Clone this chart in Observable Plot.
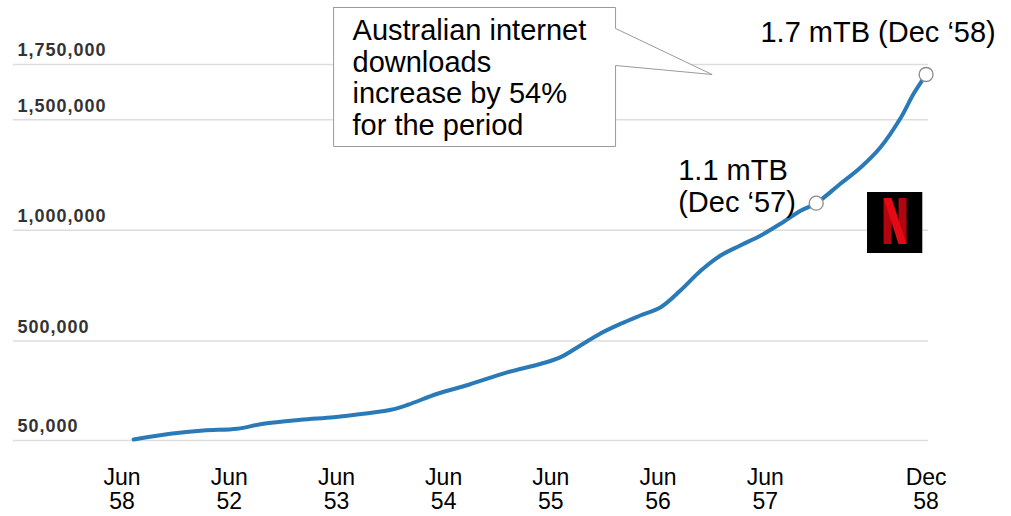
<!DOCTYPE html>
<html>
<head>
<meta charset="utf-8">
<script src="https://cdn.jsdelivr.net/npm/d3@7"></script>
<script src="https://cdn.jsdelivr.net/npm/@observablehq/plot@0.6"></script>
<style>
  html, body { margin: 0; padding: 0; background: #ffffff; }
  #chart svg { display: block; }
</style>
</head>
<body>
<div id="chart"></div>
<script>
// ---- data (months counted from the first "Jun" tick) ----
const months = [1.3, 5.4, 9.1, 12.9, 15.8, 20.0, 23.7, 27.0, 30.1, 32.0, 35.3, 38.8, 43.2, 46.9, 49.1, 51.3, 53.6, 55.8, 58.0, 60.3, 62.5, 64.8, 67.0, 69.2, 71.5, 73.7, 76.0, 77.7, 80.4, 82.7, 84.9, 87.2, 88.6, 90];
const downloads = [54500, 80300, 95200, 102900, 125500, 143600, 155300, 170700, 188800, 211400, 261100, 301800, 358800, 396800, 426600, 479500, 535100, 577600, 615000, 652500, 728000, 818500, 886300, 931500, 976800, 1029700, 1089800, 1122800, 1210500, 1285600, 1376000, 1511700, 1617500, 1704700];

const yTicks = [50000, 500000, 1000000, 1500000, 1750000];
const xTickMonths = [0, 12, 24, 36, 48, 60, 72, 90];
const xTickLabels = ["Jun\n58", "Jun\n52", "Jun\n53", "Jun\n54", "Jun\n55", "Jun\n56", "Jun\n57", "Dec\n58"];

const markerMonths = [77.7, 90];
const markerValues = [1122800, 1704700];
const markerLabels = ["1.1 mTB\n(Dec \u201857)", "1.7 mTB (Dec \u201858)"];

const calloutText = "Australian internet\ndownloads\nincrease by 54%\nfor the period";
// callout outline (data units: months, downloads)
const calloutM = [23.68, 55.24, 55.24, 66.05, 55.24, 55.24, 23.68, 23.68];
const calloutV = [2007800, 2007800, 1912800, 1704800, 1745500, 1379200, 1379200, 2007800];
const calloutTextAt = [{m: 25.8, v: 1959800}];
const logoAt = [{m: 86.47, v: 1035500}];

// ---- derived tables ----
const series = months.map((m, i) => ({m, v: downloads[i]}));
const markers = markerMonths.map((m, i) => ({m, v: markerValues[i], label: markerLabels[i]}));
const callout = calloutM.map((m, i) => ({m, v: calloutV[i]}));

const logoSvg = `<svg xmlns="http://www.w3.org/2000/svg" width="56" height="61" viewBox="0 0 56 61">
<rect width="56" height="61" fill="#000"/>
<rect x="17" y="6" width="8" height="46" fill="#b1060f"/>
<rect x="32" y="6" width="8" height="46" fill="#b1060f"/>
<polygon points="17,6 25,6 40,52 32,52" fill="#e50914"/>
</svg>`;
const logoSrc = "data:image/svg+xml;charset=utf-8," + encodeURIComponent(logoSvg);

const font = "Liberation Sans, Arial, Helvetica, sans-serif";

const chart = Plot.plot({
  width: 1011,
  height: 516,
  marginLeft: 13,
  marginRight: 83,
  marginTop: 64,
  marginBottom: 65,
  style: {fontFamily: font, background: "#ffffff", color: "#000"},
  x: {domain: [-12.15, 90.27]},
  y: {domain: [0, 1750000]},
  marks: [
    Plot.ruleY(yTicks, {stroke: "#dddddd", strokeWidth: 1.5}),
    Plot.axisY({
      ticks: yTicks, tickSize: 0, tickPadding: 0, textAnchor: "start",
      dx: 4, dy: -14, fontSize: 18, fontWeight: "bold", fill: "#333333",
      tickFormat: d3.format(","), label: null
    }),
    Plot.axisX({
      ticks: xTickMonths, tickSize: 0, tickPadding: 17, fontSize: 23, lineHeight: 1.04,
      fill: "#000", tickFormat: (d) => xTickLabels[xTickMonths.indexOf(d)], label: null
    }),
    Plot.line(callout, {x: "m", y: "v", fill: "#ffffff", stroke: "#9a9a9a", strokeWidth: 1, curve: "linear"}),
    Plot.text(calloutTextAt, {x: "m", y: "v", text: () => calloutText, textAnchor: "start", lineAnchor: "top",
      fontSize: 29, lineHeight: 1.086, fill: "#000"}),
    Plot.line(series, {x: "m", y: "v", stroke: "#2a7ab8", strokeWidth: 4, curve: "catmull-rom"}),
    Plot.dot(markers, {x: "m", y: "v", r: 7, fill: "#ffffff", stroke: "#8a8a8a", strokeWidth: 1.3}),
    Plot.text([markers[0]], {x: "m", y: "v", text: "label", textAnchor: "start", lineAnchor: "bottom",
      dx: -138, dy: 9, fontSize: 29, lineHeight: 1.1, fill: "#000"}),
    Plot.text([markers[1]], {x: "m", y: "v", text: "label", textAnchor: "middle", lineAnchor: "bottom",
      dx: -48, dy: -33, fontSize: 29, fill: "#000"}),
    Plot.image(logoAt, {x: "m", y: "v", src: logoSrc, width: 56, height: 61})
  ]
});

d3.select(chart).selectAll("g[aria-label='y-axis tick label'] text").attr("letter-spacing", "1px");
document.getElementById("chart").appendChild(chart);
</script>
</body>
</html>
